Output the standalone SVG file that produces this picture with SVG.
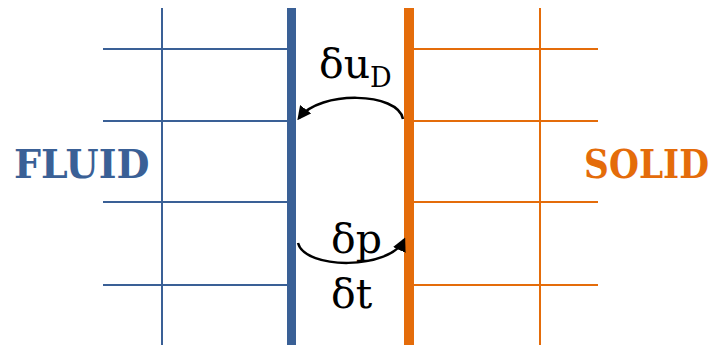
<svg xmlns="http://www.w3.org/2000/svg" width="717" height="345" viewBox="0 0 717 345">
<style>
.b{stroke:#3A6096;fill:none}
.o{stroke:#E46C0A;fill:none}
.thin{stroke-width:2}
.lbl{font-family:"DejaVu Serif","Liberation Serif",serif;font-weight:bold;font-size:40px}
.m{font-family:"DejaVu Serif","Liberation Serif",serif;font-size:41px;fill:#000}
.arr{stroke:#000;stroke-width:2.5;fill:none}
</style>
<defs>
<marker id="ah" viewBox="0 0 10 10" refX="8" refY="5" markerWidth="5.5" markerHeight="5.5" orient="auto" markerUnits="strokeWidth">
<path d="M0,0 L10,5 L0,10 z" fill="#000"/>
</marker>
</defs>
<g id="fluid">
<line class="b thin" x1="162" y1="8" x2="162" y2="345"/>
<line class="b thin" x1="103" y1="49" x2="290" y2="49"/>
<line class="b thin" x1="103" y1="121" x2="290" y2="121"/>
<line class="b thin" x1="103" y1="202" x2="290" y2="202"/>
<line class="b thin" x1="103" y1="285" x2="290" y2="285"/>
<line class="b" stroke-width="9" x1="291.5" y1="8" x2="291.5" y2="345"/>
<text class="lbl" transform="translate(14,178) scale(0.95,1)" fill="#3A6096">FLUID</text>
</g>
<g id="solid">
<line class="o thin" x1="540" y1="8" x2="540" y2="345"/>
<line class="o thin" x1="410" y1="49" x2="598" y2="49"/>
<line class="o thin" x1="410" y1="121" x2="598" y2="121"/>
<line class="o thin" x1="410" y1="202" x2="598" y2="202"/>
<line class="o thin" x1="410" y1="285" x2="598" y2="285"/>
<line class="o" stroke-width="10" x1="409" y1="8" x2="409" y2="345"/>
<text class="lbl" transform="translate(709,178) scale(0.86,1)" text-anchor="end" fill="#E46C0A">SOLID</text>
</g>
<g id="connectors">
<path class="arr" d="M403,119 C398,92 320,90 299,118" marker-end="url(#ah)"/>
<path class="arr" d="M298,243 C305,270 390,270 404,240" marker-end="url(#ah)"/>
</g>
<g id="labels">
<text class="m" x="319" y="78">δu<tspan font-size="27" dy="9">D</tspan></text>
<text class="m" x="331" y="253">δp</text>
<text class="m" x="331" y="308">δt</text>
</g>
</svg>
